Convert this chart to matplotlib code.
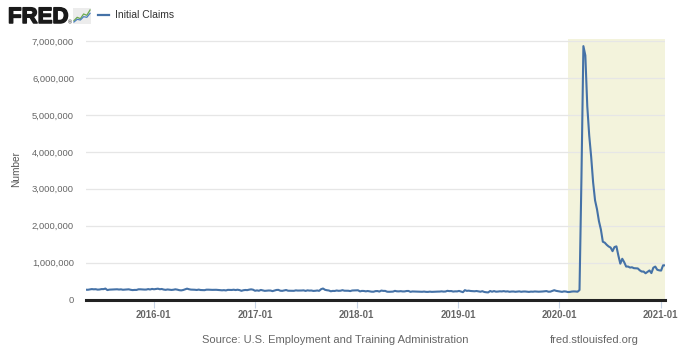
import matplotlib
matplotlib.use("Agg")
import matplotlib.pyplot as plt
import matplotlib.patheffects as pe
import matplotlib.ticker as mticker
import numpy as np
import pandas as pd

series_name = "Initial Claims"
start_week = "2015-05-02"
recession_start = "2020-02-01"

# weekly initial claims, thousands
claims_2015 = [265, 264, 274, 282, 276, 279, 267, 271, 282, 281, 296, 255, 267, 270, 274, 277, 277, 270,
               275, 264, 267, 269, 276, 263, 255, 260, 259, 276, 276, 272, 269, 269, 282, 271, 287]
claims_2016 = [277, 284, 293, 278, 285, 269, 262, 272, 267, 259, 265, 276, 267, 253, 247, 257, 274, 294,
               278, 268, 267, 264, 258, 268, 257, 254, 253, 266, 266, 262, 261, 262, 263, 260, 254, 249,
               254, 246, 261, 259, 258, 265, 256, 265, 255, 235, 251, 258, 254, 267, 275, 265, 237]
claims_2017 = [247, 237, 259, 246, 234, 239, 244, 242, 227, 243, 258, 261, 238, 234, 244, 257, 238, 236,
               232, 235, 248, 242, 242, 244, 248, 233, 248, 241, 244, 232, 236, 244, 234, 280, 298, 263,
               251, 244, 223, 233, 231, 244, 235, 238, 253, 238, 236, 237, 228, 244, 246, 248]
claims_2018 = [250, 220, 233, 231, 221, 230, 222, 212, 211, 227, 229, 215, 242, 233, 233, 211, 209, 212,
               214, 234, 222, 220, 226, 218, 219, 230, 231, 208, 218, 216, 213, 212, 211, 209, 215, 207,
               206, 213, 207, 210, 215, 214, 215, 221, 214, 216, 235, 227, 229, 215, 221, 220]
claims_2019 = [232, 216, 199, 253, 234, 239, 230, 225, 223, 230, 221, 211, 225, 204, 196, 192, 230, 211,
               228, 212, 215, 222, 218, 227, 216, 221, 209, 216, 217, 209, 214, 220, 209, 216, 217, 213,
               206, 214, 211, 218, 214, 211, 213, 217, 221, 228, 211, 213, 232, 252, 234, 224]
claims_2020 = [214, 207, 220, 216, 202, 205, 215, 219, 217, 211, 256, 3307, 6867, 6615, 5237, 4442, 3867,
               3176, 2687, 2446, 2123, 1897, 1566, 1540, 1482, 1437, 1408, 1310, 1422, 1440, 1191, 971,
               1104, 1011, 893, 893, 866, 873, 849, 845, 842, 791, 758, 757, 711, 748, 787, 716, 862,
               892, 806, 790]
claims_2021 = [784, 926, 925]

y_ticks = [0, 1000000, 2000000, 3000000, 4000000, 5000000, 6000000, 7000000]
x_tick_labels = ["2016-01", "2017-01", "2018-01", "2019-01", "2020-01", "2021-01"]

values = np.array(claims_2015 + claims_2016 + claims_2017 + claims_2018 + claims_2019
                  + claims_2020 + claims_2021) * 1000
dates = pd.date_range(start_week, periods=len(values), freq="W-SAT")

plt.rcParams['font.family'] = ['Liberation Sans', 'DejaVu Sans']

fig = plt.figure(figsize=(6.8, 3.6), dpi=100)
W, H = 680, 360
ax_left, ax_right, ax_top, ax_bottom = 86, 665, 39.0, 299.5
ax = fig.add_axes([ax_left / W, 1 - ax_bottom / H, (ax_right - ax_left) / W, (ax_bottom - ax_top) / H])

ax.axvspan(pd.Timestamp(recession_start), dates[-1], color="#f3f3dc", zorder=0, lw=0)
ax.plot(dates, values, color="#4572a7", lw=1.5, zorder=3)

ax.set_xlim(dates[0], dates[-1])
ax.set_ylim(0, 7060000)
ax.set_yticks(y_ticks)
ax.yaxis.set_major_formatter(mticker.FuncFormatter(lambda v, p: f"{int(v):,}"))
ax.set_xticks([pd.Timestamp(t + "-01") for t in x_tick_labels])
ax.set_xticklabels(x_tick_labels)

ax.grid(axis="y", color="#e6e6e6", lw=0.9, zorder=1)
ax.set_axisbelow(True)
for s in ["top", "right", "left"]:
    ax.spines[s].set_visible(False)
ax.spines["bottom"].set_color("#222222")
ax.spines["bottom"].set_linewidth(2.2)
ax.spines["bottom"].set_zorder(4)
ax.tick_params(axis="y", length=0, pad=8.6, labelsize=6.8, labelcolor="#666666")
ax.tick_params(axis="x", length=6, width=0.8, color="#c8d4e6", pad=1.5, labelsize=6.9, labelcolor="#555555")
for lbl in ax.get_xticklabels():
    lbl.set_fontweight("bold")
    lbl.set_color("#666666")
ax.set_ylabel("Number", fontsize=7.3, color="#555555")
ax.yaxis.set_label_coords((21 - ax_left) / (ax_right - ax_left), 0.5)

# header
fig.text(8 / W, 1 - 17.5 / H, "FRED", fontsize=16, fontweight="bold", color="#1a1a1a", va="center", ha="left",
         path_effects=[pe.withStroke(linewidth=1.1, foreground="#1a1a1a")])
fig.text(68 / W, 1 - 23 / H, "®", fontsize=4, color="#1a1a1a", va="center", ha="left")
icon = fig.add_axes([73 / W, 1 - 24 / H, 18 / W, 16 / H])
icon.set_facecolor("#ececec")
icon.plot([0, 1, 2, 3, 4, 5], [1, 2, 1.6, 3, 2.6, 4.2], color="#6aa84f", lw=0.9)
icon.plot([0, 1, 2, 3, 4, 5], [0.6, 1.4, 1.2, 2.2, 2.0, 3.2], color="#4a7fbf", lw=0.9)
icon.set_xlim(-0.3, 5.3)
icon.set_ylim(0, 4.8)
icon.set_xticks([])
icon.set_yticks([])
for s in icon.spines.values():
    s.set_visible(False)
fig.add_artist(plt.Line2D([98 / W, 109 / W], [1 - 15 / H, 1 - 15 / H], color="#4572a7", lw=1.6))
fig.text(115 / W, 1 - 15 / H, series_name, fontsize=7.5, color="#333333", va="center", ha="left")

# footer
fig.text(202 / W, 1 - 340 / H, "Source: U.S. Employment and Training Administration", fontsize=8.0,
         color="#666666", va="center", ha="left")
fig.text(550 / W, 1 - 340 / H, "fred.stlouisfed.org", fontsize=8.0, color="#666666", va="center", ha="left")

fig.savefig("out.png", dpi=100, facecolor="white")
